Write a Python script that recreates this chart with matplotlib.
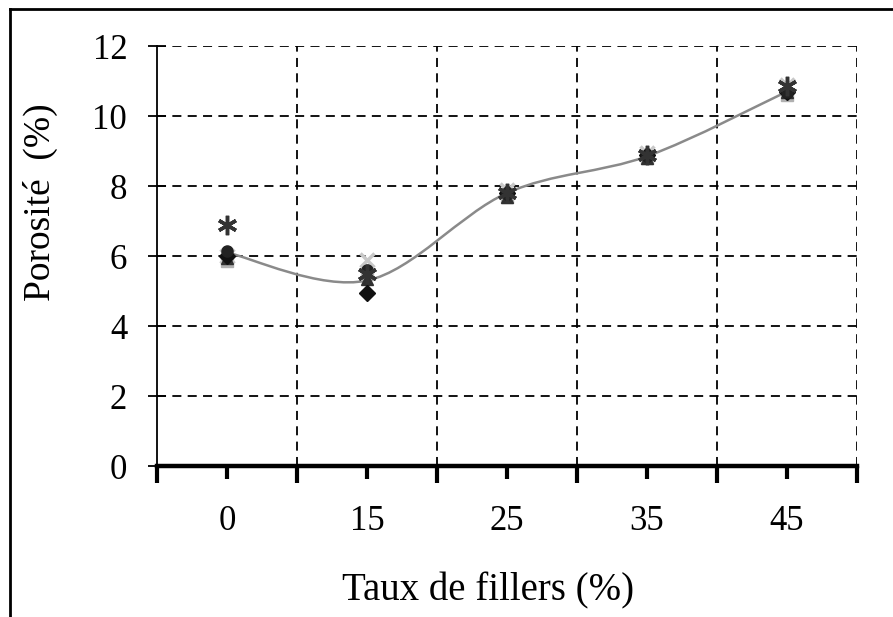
import matplotlib
matplotlib.use("Agg")
import matplotlib.pyplot as plt
import numpy as np
from matplotlib.path import Path
from matplotlib.patches import PathPatch
from matplotlib.lines import Line2D

plt.rcParams['font.family'] = ['Liberation Serif', 'DejaVu Serif']

# taux de fillers (categories)
categories = ['0', '15', '25', '35', '45']

# porosite mesuree pour chaque serie d'essais
por_losange = [6.0, 4.95, 7.8, 8.9, 10.7]
por_carre = [5.85, 5.5, 7.7, 8.8, 10.6]
por_triangle = [5.95, 5.35, 7.7, 8.8, 10.7]
por_croix = [6.0, 5.9, 7.9, 8.95, 10.9]
por_etoile = [6.9, 5.5, 7.8, 8.9, 10.85]
por_cercle = [6.15, 5.6, 7.8, 8.85, 10.7]

# courbe moyenne lissee
por_moyenne = [6.1, 5.3, 7.8, 8.85, 10.7]

xpos = np.arange(len(categories))

fig = plt.figure(figsize=(8.93, 6.17), dpi=100)
ax = fig.add_axes([0.1758, 0.2447, 0.7839, 0.6807])

# trace lisse facon tableur (catmull-rom -> bezier)
def smooth_path(x, y, t=1/6):
    pts = np.column_stack([x, y]).astype(float)
    verts = [pts[0]]
    codes = [Path.MOVETO]
    n = len(pts)
    for i in range(n - 1):
        p0 = pts[i - 1] if i > 0 else pts[i]
        p1 = pts[i]
        p2 = pts[i + 1]
        p3 = pts[i + 2] if i + 2 < n else pts[i + 1]
        c1 = p1 + (p2 - p0) * t
        c2 = p2 - (p3 - p1) * t
        verts += [c1, c2, p2]
        codes += [Path.CURVE4] * 3
    return Path(verts, codes)

ax.add_patch(PathPatch(smooth_path(xpos, por_moyenne), fill=False,
                       edgecolor='#8a8a8a', lw=1.8, zorder=3))

ax.plot(xpos, por_carre, 's', color='#b0b0b0', ms=8, zorder=4)
ax.plot(xpos, por_croix, 'x', color='#c8c8c8', ms=10, mew=2.5, zorder=4)
ax.plot(xpos, por_triangle, '^', color='#303030', ms=9, zorder=5)
ax.plot(xpos, por_losange, 'D', color='#111111', ms=8, zorder=5)
ax.plot(xpos, por_cercle, 'o', color='#222222', ms=8, zorder=6)
ax.plot(xpos, por_etoile, marker=(6, 2, 0), ls='none', color='#333333',
        ms=14, mew=2.5, zorder=6)

ax.set_xlim(-0.5, 4.5)
ax.set_ylim(0, 12)

# quadrillage en tirets
for yv in range(2, 13, 2):
    ax.add_line(Line2D([-0.5, 4.5], [yv, yv], color='black', lw=1.3,
                       dashes=(5, 3.5), zorder=1))
for xv in np.arange(0.5, 4.6, 1.0):
    ax.add_line(Line2D([xv, xv], [0, 12], color='black', lw=1.3,
                       dashes=(5, 3.5), zorder=1))

ax.spines['top'].set_visible(False)
ax.spines['right'].set_visible(False)
ax.spines['left'].set_linewidth(1.3)
ax.spines['bottom'].set_linewidth(3.2)
ax.spines['bottom'].set_zorder(7)

ax.set_yticks(range(0, 13, 2))
ax.set_yticklabels([str(v) for v in range(0, 13, 2)], fontsize=25)
ax.tick_params(axis='y', direction='inout', length=13, width=1.3, pad=15)

ax.set_xticks(np.arange(-0.5, 4.6, 1.0))
ax.set_xticklabels([])
ax.set_xticks(xpos, minor=True)
ax.set_xticklabels(categories, minor=True, fontsize=25)
ax.tick_params(axis='x', which='major', direction='out', length=12, width=3)
ax.tick_params(axis='x', which='minor', direction='out', length=9, width=3, pad=19)

fig.text(0.045, 0.672, 'Porosité  (%)', rotation=90, fontsize=27,
         ha='center', va='center')
fig.text(0.546, 0.042, 'Taux de fillers (%)', fontsize=28,
         ha='center', va='center')

# cadre exterieur
fig.add_artist(Line2D([0.0112, 1.0], [0.9854, 0.9854], color='black', lw=2,
                      transform=fig.transFigure))
fig.add_artist(Line2D([0.0112, 0.0112], [0.0, 0.9854], color='black', lw=2,
                      transform=fig.transFigure))

fig.savefig('out.png', dpi=100)
